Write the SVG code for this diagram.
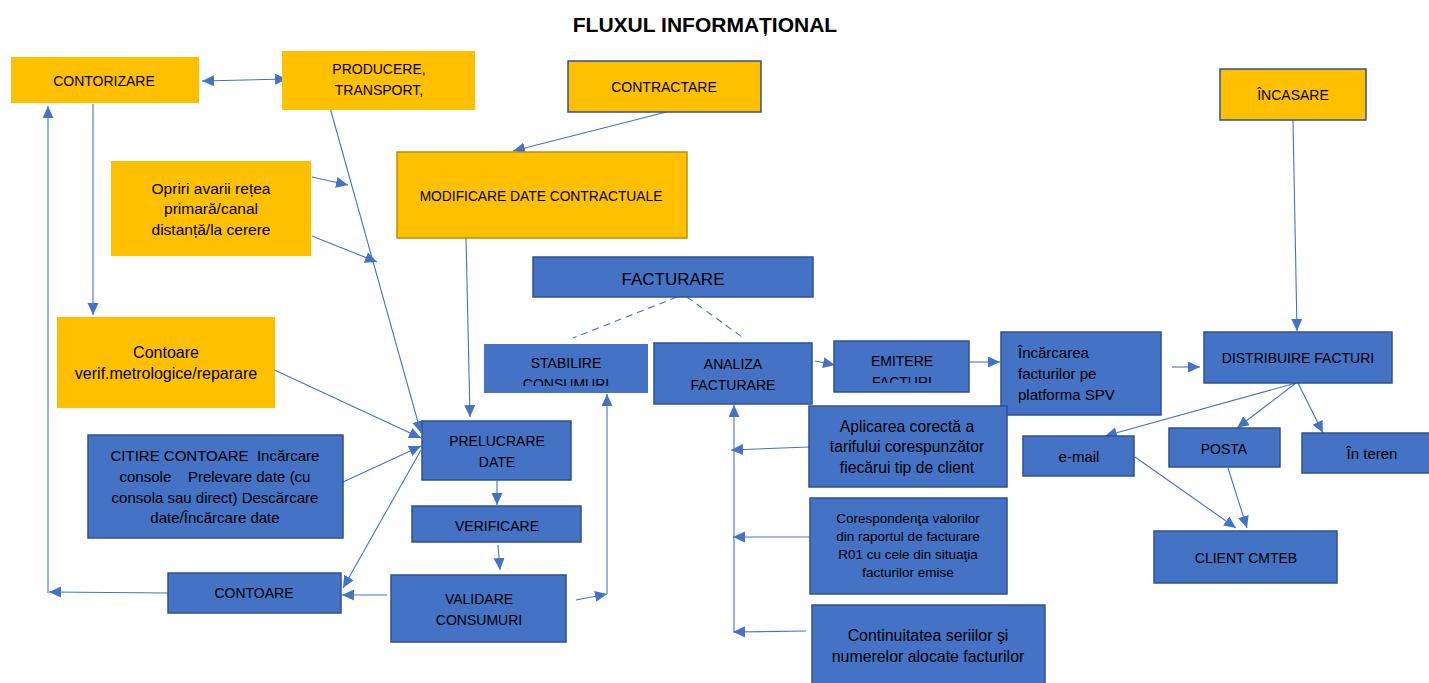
<svg xmlns="http://www.w3.org/2000/svg" width="1429" height="683" viewBox="0 0 1429 683">
<style>
text{font-family:"Liberation Sans",Arial,sans-serif;font-size:14px;fill:#000;text-anchor:middle}
.y{fill:#FFC000}
.b{fill:#4472C4;stroke:#2F528F;stroke-width:1.5}
.bn{fill:#4472C4}
.c{stroke:#4472C4;stroke-width:1.1;fill:none}
.a{marker-end:url(#ah)}
.d{stroke-dasharray:7 5}
</style>
<defs>
<marker id="ah" markerUnits="userSpaceOnUse" markerWidth="13" markerHeight="12" refX="12" refY="5.5" orient="auto"><path d="M0,0 L12,5.5 L0,11 z" fill="#4472C4"/></marker>
<marker id="as" markerUnits="userSpaceOnUse" markerWidth="13" markerHeight="12" refX="0" refY="5.5" orient="auto"><path d="M12,0 L0,5.5 L12,11 z" fill="#4472C4"/></marker>
<clipPath id="cs"><rect x="484" y="344" width="164" height="42"/></clipPath>
<clipPath id="ce"><rect x="834" y="341" width="135" height="42"/></clipPath>
</defs>
<rect width="1429" height="683" fill="#fff"/>
<text x="705" y="32" style="font-weight:bold;font-size:21px">FLUXUL INFORMAȚIONAL</text>

<g id="connectors">
<line class="c" x1="202" y1="81" x2="287" y2="79" marker-start="url(#as)" marker-end="url(#ah)"/>
<line class="c a" x1="93" y1="104" x2="93" y2="315"/>
<line class="c a" x1="48" y1="593" x2="48" y2="106"/>
<line class="c a" x1="168" y1="593" x2="49" y2="592"/>
<line class="c a" x1="329" y1="104" x2="421" y2="433"/>
<line class="c a" x1="312" y1="177" x2="348" y2="185"/>
<line class="c a" x1="312" y1="236" x2="377" y2="262"/>
<line class="c a" x1="466" y1="238" x2="470" y2="417"/>
<line class="c a" x1="686" y1="107" x2="513" y2="151"/>
<line class="c a" x1="268" y1="367" x2="421" y2="438"/>
<line class="c a" x1="343" y1="482" x2="421" y2="446"/>
<line class="c a" x1="421" y1="450" x2="343" y2="588"/>
<line class="c a" x1="387" y1="595" x2="342" y2="595"/>
<line class="c a" x1="497" y1="481" x2="497" y2="505"/>
<line class="c a" x1="498" y1="545" x2="500" y2="570"/>
<line class="c a" x1="576" y1="600" x2="607" y2="594"/>
<line class="c a" x1="607" y1="594" x2="607" y2="394"/>
<line class="c d" x1="677" y1="297" x2="573" y2="338"/>
<line class="c d" x1="687" y1="297" x2="742" y2="337"/>
<line class="c a" x1="815" y1="361" x2="835" y2="365"/>
<line class="c a" x1="970" y1="362" x2="1000" y2="362"/>
<line class="c a" x1="1172" y1="367" x2="1200" y2="367"/>
<line class="c a" x1="1293" y1="120" x2="1297" y2="331"/>
<line class="c a" x1="1296" y1="383" x2="1105" y2="436"/>
<line class="c a" x1="1296" y1="383" x2="1237" y2="428"/>
<line class="c a" x1="1298" y1="383" x2="1323" y2="433"/>
<line class="c a" x1="1135" y1="457" x2="1236" y2="528"/>
<line class="c a" x1="1228" y1="468" x2="1247" y2="528"/>
<line class="c a" x1="734" y1="632" x2="734" y2="405"/>
<line class="c a" x1="809" y1="447" x2="731" y2="450"/>
<line class="c a" x1="810" y1="537" x2="733" y2="537"/>
<line class="c a" x1="806" y1="631" x2="733" y2="632"/>
</g>

<g id="contorizare"><rect class="y" x="11" y="57" width="188" height="46"/><text x="104" y="86">CONTORIZARE</text></g>
<g id="producere"><rect class="y" x="282" y="51" width="193" height="59"/><text x="379" y="74">PRODUCERE,</text><text x="379" y="95">TRANSPORT,</text></g>
<g id="opriri"><rect class="y" x="111" y="161" width="200" height="95"/><text x="211" y="194" style="font-size:15.5px">Opriri avarii rețea</text><text x="211" y="214" style="font-size:15.5px">primară/canal</text><text x="211" y="235" style="font-size:15.5px">distanță/la cerere</text></g>
<g id="contractare"><rect class="y" x="568" y="61" width="193" height="51" style="stroke:#2F528F;stroke-width:1.5"/><text x="664" y="92">CONTRACTARE</text></g>
<g id="modificare"><rect class="y" x="397" y="152" width="290" height="86" style="stroke:#BF9000;stroke-width:1.5"/><text x="541" y="201" style="font-size:13.8px">MODIFICARE DATE CONTRACTUALE</text></g>
<g id="contoare-verif"><rect class="y" x="57" y="317" width="218" height="91"/><text x="166" y="358" style="font-size:16px">Contoare</text><text x="166" y="379" style="font-size:16px">verif.metrologice/reparare</text></g>
<g id="incasare"><rect class="y" x="1220" y="69" width="146" height="51" style="stroke:#2F528F;stroke-width:1.5"/><text x="1293" y="100">ÎNCASARE</text></g>

<g id="facturare"><rect class="b" x="533" y="257" width="280" height="40"/><text x="673" y="285" style="font-size:17px">FACTURARE</text></g>
<g id="stabilire"><rect class="bn" x="484" y="344" width="164" height="49"/><g clip-path="url(#cs)"><text x="566" y="368">STABILIRE</text><text x="566" y="389">CONSUMURI</text></g></g>
<g id="analiza"><rect class="b" x="654" y="343" width="158" height="61"/><text x="733" y="369">ANALIZA</text><text x="733" y="390">FACTURARE</text></g>
<g id="emitere"><rect class="b" x="834" y="341" width="135" height="51"/><g clip-path="url(#ce)"><text x="902" y="366">EMITERE</text><text x="902" y="387">FACTURI</text></g></g>
<g id="incarcarea"><rect class="b" x="1001" y="332" width="160" height="83"/><text x="1018" y="358" style="text-anchor:start;font-size:15px">Încărcarea</text><text x="1018" y="379" style="text-anchor:start;font-size:15px">facturilor pe</text><text x="1018" y="400" style="text-anchor:start;font-size:15px">platforma SPV</text></g>
<g id="distribuire"><rect class="b" x="1204" y="332" width="188" height="51"/><text x="1298" y="363">DISTRIBUIRE FACTURI</text></g>
<g id="aplicarea"><rect class="b" x="809" y="406" width="198" height="81"/><text x="907" y="432" style="font-size:15.7px">Aplicarea corectă a</text><text x="907" y="452" style="font-size:15.7px">tarifului corespunzător</text><text x="907" y="473" style="font-size:15.7px">fiecărui tip de client</text></g>
<g id="corespondenta"><rect class="b" x="810" y="498" width="197" height="96"/><text x="908" y="523" style="font-size:13.5px">Corespondenţa valorilor</text><text x="908" y="541" style="font-size:13.5px">din raportul de facturare</text><text x="908" y="559" style="font-size:13.5px">R01 cu cele din situaţia</text><text x="908" y="577" style="font-size:13.5px">facturilor emise</text></g>
<g id="continuitatea"><rect class="b" x="812" y="605" width="233" height="85"/><text x="928" y="641" style="font-size:15.9px">Continuitatea seriilor şi</text><text x="928" y="662" style="font-size:15.9px">numerelor alocate facturilor</text></g>
<g id="email"><rect class="b" x="1023" y="436" width="111" height="40"/><text x="1079" y="462" style="font-size:15px">e-mail</text></g>
<g id="posta"><rect class="b" x="1169" y="428" width="111" height="39"/><text x="1224" y="454">POSTA</text></g>
<g id="in-teren"><rect class="b" x="1302" y="433" width="130" height="40"/><text x="1372" y="459" style="font-size:15px">În teren</text></g>
<g id="client"><rect class="b" x="1154" y="531" width="183" height="52"/><text x="1246" y="563">CLIENT CMTEB</text></g>
<g id="prelucrare"><rect class="b" x="422" y="421" width="149" height="59"/><text x="497" y="446">PRELUCRARE</text><text x="497" y="467">DATE</text></g>
<g id="verificare"><rect class="b" x="412" y="506" width="169" height="36"/><text x="497" y="531">VERIFICARE</text></g>
<g id="validare"><rect class="b" x="391" y="575" width="175" height="67"/><text x="479" y="604">VALIDARE</text><text x="479" y="625">CONSUMURI</text></g>
<g id="citire"><rect class="b" x="88" y="435" width="255" height="103"/><text x="215" y="461" xml:space="preserve" style="font-size:15px">CITIRE CONTOARE  Incărcare</text><text x="215" y="482" xml:space="preserve" style="font-size:15px">console    Prelevare date (cu</text><text x="215" y="503" style="font-size:15px">consola sau direct) Descărcare</text><text x="215" y="523" style="font-size:15px">date/Încărcare date</text></g>
<g id="contoare"><rect class="b" x="168" y="573" width="173" height="40"/><text x="254" y="598">CONTOARE</text></g>
</svg>
